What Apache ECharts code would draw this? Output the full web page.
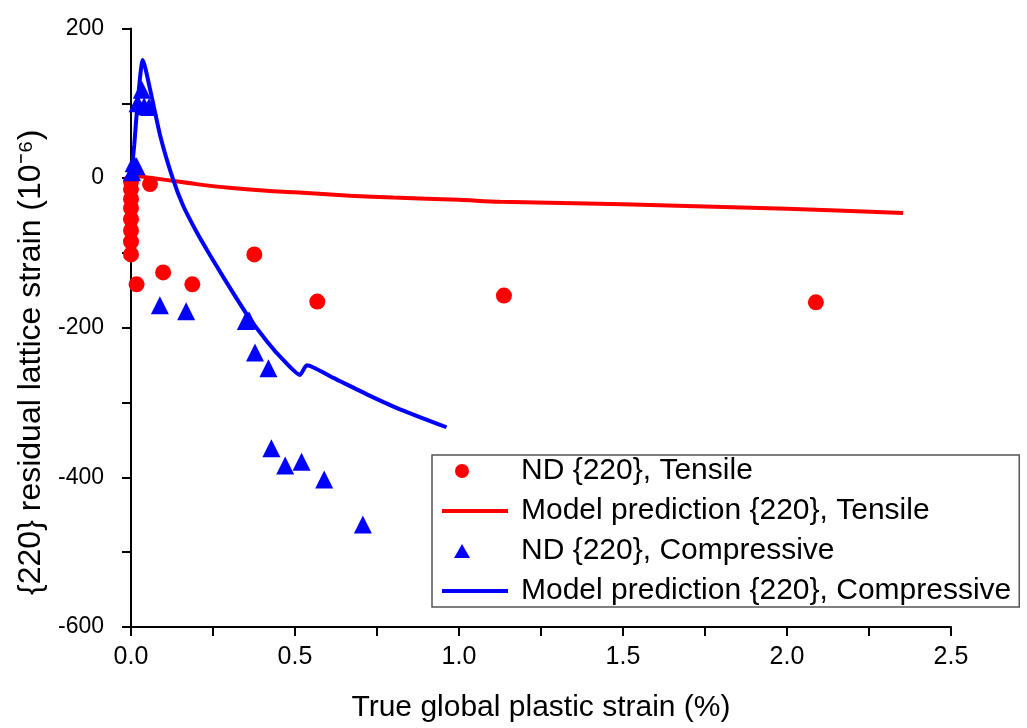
<!DOCTYPE html>
<html><head><meta charset="utf-8">
<script src="https://cdn.jsdelivr.net/npm/echarts@6/dist/echarts.min.js"></script>
<style>html,body{margin:0;padding:0;background:#fff}#c{width:1027px;height:728px}</style>
</head><body><div id="c"></div>
<script>
// ND {220}, Tensile  [strain %, residual lattice strain 1e-6]
const tensileND = [[0,-5],[0,-15],[0,-28],[0,-40],[0,-55],[0,-70],[0,-85],[0,-102],
  [0.058,-8],[0.017,-142],[0.098,-126],[0.187,-142],[0.376,-102],[0.568,-165],[1.137,-157],[2.088,-166]];
// Model prediction {220}, Tensile
const tensileModel = [[0,1],[0.012,3],[0.05,1],[0.1,-2],[0.2,-8],[0.3,-13],[0.414,-17],[0.5,-19],
  [0.668,-23.5],[0.8,-26],[1.0,-29],[1.125,-31.5],[1.5,-35],[2.0,-41],[2.354,-46.5]];
// ND {220}, Compressive
const compND = [[0.003,8],[0.008,20],[0.017,16],[0.02,100],[0.033,118],[0.04,96],[0.055,95],
  [0.088,-170],[0.168,-178],[0.35,-191],[0.36,-190],[0.378,-233],[0.419,-254],[0.428,-361],
  [0.47,-384],[0.52,-379],[0.589,-403],[0.707,-463]];
// Model prediction {220}, Compressive
const compModel = [[0,0],[0.01,45],[0.02,100],[0.036,158],[0.06,115],[0.09,55],[0.127,0],
  [0.159,-37],[0.2,-72],[0.241,-103],[0.281,-132],[0.35,-180],[0.414,-218],[0.464,-243],[0.515,-263],
  [0.536,-250],[0.617,-267],[0.719,-289],[0.82,-309],[0.962,-333]];

const xTicks = [0, 0.5, 1.0, 1.5, 2.0, 2.5];
const yTicks = [-600, -400, -200, 0, 200];

const F = '"Liberation Sans", Arial, sans-serif';
const lineIcon = 'path://M0,0 L66,0 L66,4 L0,4 Z';
const circleIcon = 'path://M0,0 L0.01,0 M13,8 A7,7 0 1,0 27,8 A7,7 0 1,0 13,8 Z M66,16 L65.99,16';
const triIcon = 'path://M0,0 L0.01,0 M20,1 L28,15 L12,15 Z M66,16 L65.99,16';

const chart = echarts.init(document.getElementById('c'));
chart.setOption({
  animation: false,
  backgroundColor: '#fff',
  grid: {left: 131, right: 76, top: 28.5, bottom: 97.5, containLabel: false},
  xAxis: {
    type: 'value', min: xTicks[0], max: xTicks[xTicks.length-1], interval: 0.5,
    name: 'True global plastic strain (%)', nameLocation: 'middle', nameGap: 66,
    nameTextStyle: {fontFamily: F, fontSize: 30, color: '#000'},
    axisLine: {show: true, onZero: false, lineStyle: {color: '#000', width: 2}},
    axisTick: {show: true, inside: false, length: 9, lineStyle: {color: '#000', width: 2}},
    minorTick: {show: true, splitNumber: 2, length: 9, lineStyle: {color: '#000', width: 2}},
    splitLine: {show: false},
    axisLabel: {fontFamily: F, fontSize: 25, color: '#000', margin: 18,
      formatter: v => v.toFixed(1)}
  },
  yAxis: {
    type: 'value', min: yTicks[0], max: yTicks[yTicks.length-1], interval: 200,
    name: '{220} residual lattice strain (10⁻⁶)', nameLocation: 'middle', nameGap: 74, nameRotate: 90,
    nameTextStyle: {fontFamily: F, fontSize: 32, color: '#000', padding: [0, 69, 0, 0]},
    axisLine: {show: true, onZero: false, lineStyle: {color: '#000', width: 2}},
    axisTick: {show: true, inside: false, length: 9, lineStyle: {color: '#000', width: 2}},
    minorTick: {show: true, splitNumber: 2, length: 9, lineStyle: {color: '#000', width: 2}},
    splitLine: {show: false},
    axisLabel: {fontFamily: F, fontSize: 23, color: '#000', margin: 27}
  },
  legend: {
    orient: 'vertical', left: 432, top: 455,
    padding: [1, 8, 1, 10], itemGap: 10, itemWidth: 66, itemHeight: 16,
    backgroundColor: '#fff', borderColor: '#555', borderWidth: 1.5, borderRadius: 0,
    textStyle: {fontFamily: F, fontSize: 30, color: '#000', padding: [0,0,0,8]},
    data: [
      {name: 'ND {220}, Tensile', icon: circleIcon},
      {name: 'Model prediction {220}, Tensile', icon: lineIcon},
      {name: 'ND {220}, Compressive', icon: triIcon},
      {name: 'Model prediction {220}, Compressive', icon: lineIcon}
    ]
  },
  series: [
    {name: 'Model prediction {220}, Tensile', type: 'line', data: tensileModel, smooth: 0.3,
      symbol: 'none', lineStyle: {color: '#ff0000', width: 4}, itemStyle: {color: '#ff0000'}, z: 2},
    {name: 'ND {220}, Tensile', type: 'scatter', data: tensileND, symbol: 'circle', symbolSize: 16,
      itemStyle: {color: '#ff0000', opacity: 1}, z: 3},
    {name: 'ND {220}, Compressive', type: 'scatter', data: compND, symbol: 'triangle', symbolSize: 18,
      itemStyle: {color: '#0000ff', opacity: 1}, z: 3},
    {name: 'Model prediction {220}, Compressive', type: 'line', data: compModel, smooth: 0.2,
      symbol: 'none', lineStyle: {color: '#0000ff', width: 4}, itemStyle: {color: '#0000ff'}, z: 4}
  ]
});
</script></body></html>
